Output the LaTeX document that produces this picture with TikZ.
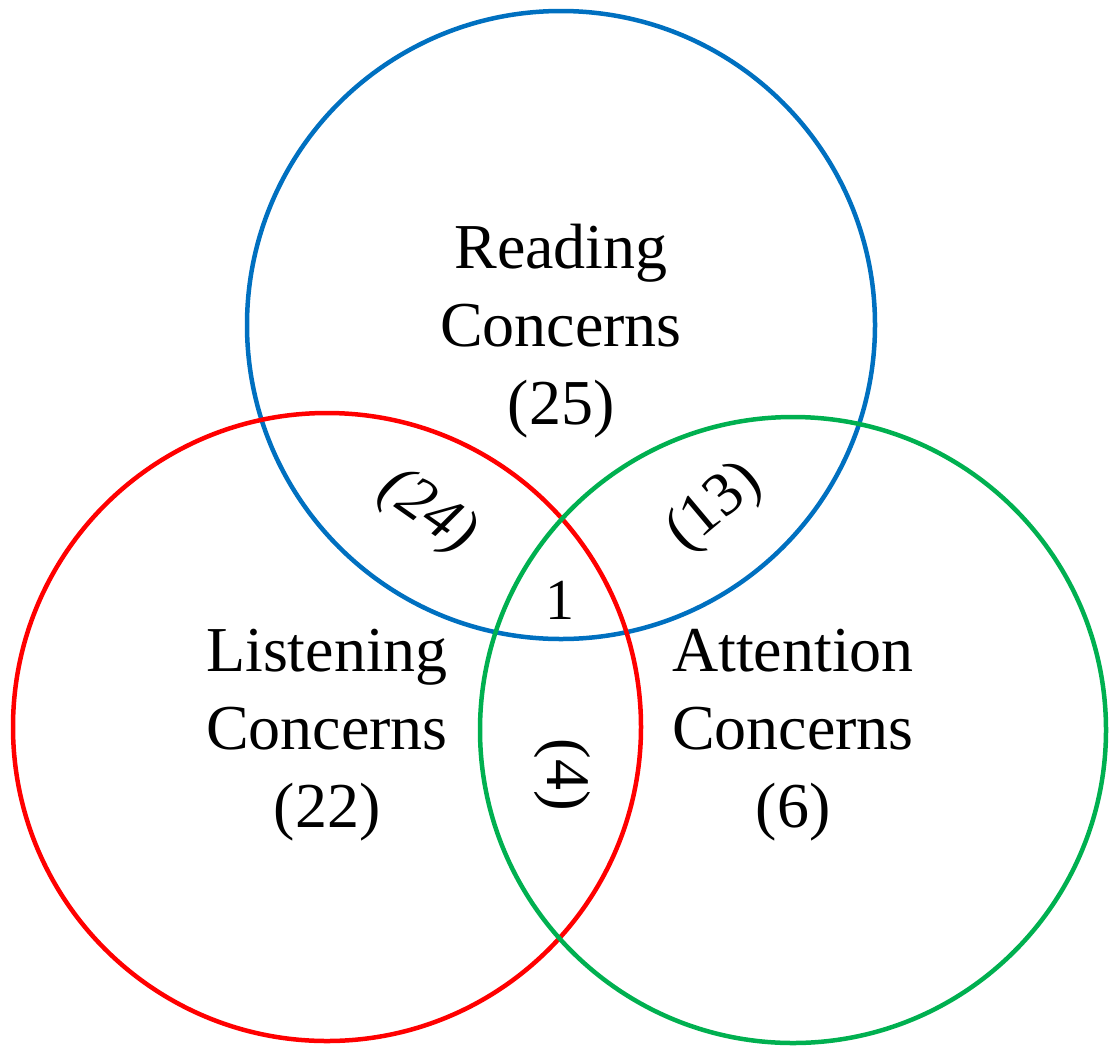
\documentclass[tikz,border=0pt]{standalone}
\usepackage{fontspec}
\setmainfont{Liberation Serif}
\definecolor{vblue}{HTML}{0070C0}
\definecolor{vred}{HTML}{FF0000}
\definecolor{vgreen}{HTML}{00B050}
\begin{document}
\begin{tikzpicture}[x=1pt,y=-1pt,
  ring/.style={line width=4.5pt},
  lbl/.style={align=center,font=\fontsize{64}{78}\selectfont,inner sep=0pt},
  num/.style={font=\fontsize{62}{74}\selectfont,inner sep=0pt}]
\useasboundingbox (0,0) rectangle (1115,1047);
\draw[ring,vblue] (561,325) circle (314);
\draw[ring,vred] (327,727) circle (314);
\draw[ring,vgreen] (793,730) circle (313);
\node[lbl] (read) at (561,331) {Reading\\Concerns\\(25)};
\node[lbl] (listen) at (327,735) {Listening\\Concerns\\(22)};
\node[lbl] (attn) at (793,735) {Attention\\Concerns\\(6)};
\node[num,rotate=-35,font=\fontsize{62}{74}\selectfont\itshape] (rl) at (427,512) {(24)};
\node[num,rotate=40] (ra) at (715,508) {(13)};
\node[num,font=\fontsize{58}{70}\selectfont] (all) at (560,600) {1};
\node[num,rotate=-90] (la) at (562,775) {(4)};
\end{tikzpicture}
\end{document}
